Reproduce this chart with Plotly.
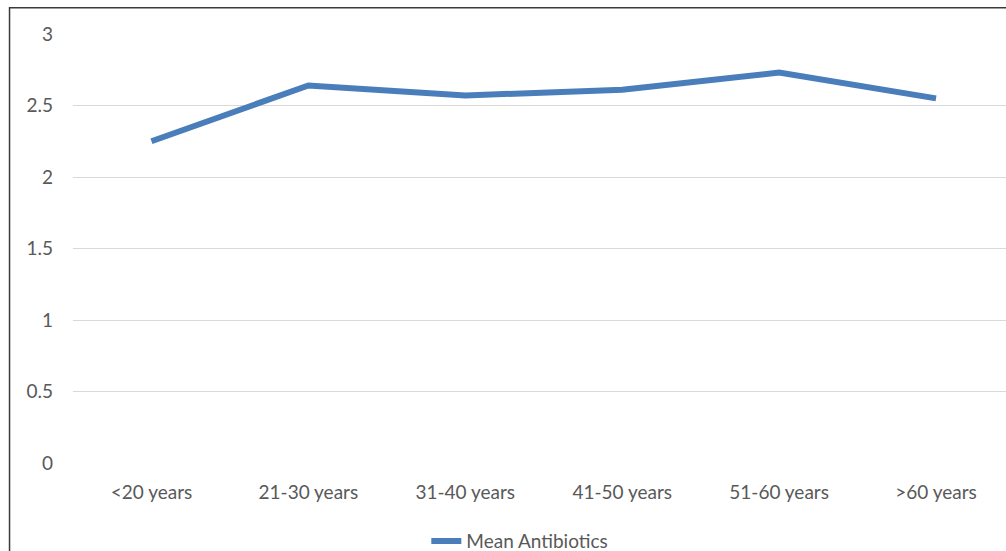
import plotly.graph_objects as go

categories = ["<20 years", "21-30 years", "31-40 years", "41-50 years", "51-60 years", ">60 years"]
mean_antibiotics = [2.25, 2.64, 2.57, 2.61, 2.73, 2.55]
y_ticks = [0, 0.5, 1, 1.5, 2, 2.5, 3]
y_tick_labels = ["0", "0.5", "1", "1.5", "2", "2.5", "3"]

W, H = 1006, 551
ml, mr, mt, mb = 72.5, 0, 34.3, 88.3
pw = W - ml - mr
ph = H - mt - mb
cat_px = 157.0
x_range = [-0.5, -0.5 + pw / cat_px]

font_family = "Lato, 'Open Sans', sans-serif"
txt_color = "#595959"
fs = 19

fig = go.Figure()
fig.add_trace(go.Scatter(
    x=categories, y=mean_antibiotics, mode="lines", name="Mean Antibiotics",
    line=dict(color="#4a7ebb", width=6),
))

# outer frame (left & top visible, right/bottom cut off)
fx0 = (9 - ml) / pw
fy1 = 1 + (mt - 8) / ph
fig.add_shape(type="rect", xref="paper", yref="paper",
              x0=fx0, x1=1.2, y0=-0.5, y1=fy1,
              line=dict(color="#3a3a3a", width=1.5), fillcolor="rgba(0,0,0,0)")

fig.update_layout(
    width=W, height=H,
    margin=dict(l=ml, r=mr, t=mt, b=mb, pad=0, autoexpand=False),
    paper_bgcolor="white", plot_bgcolor="white",
    font=dict(family=font_family, size=fs, color=txt_color),
    showlegend=True,
    legend=dict(orientation="h", x=(426 - ml) / pw, xanchor="left",
                y=-(540.7 - (mt + ph)) / ph, yanchor="middle",
                font=dict(size=fs, color=txt_color), bgcolor="rgba(0,0,0,0)"),
    xaxis=dict(type="category", range=x_range, showgrid=False, zeroline=False,
               showline=False, ticks="", ticklabelstandoff=16,
               tickfont=dict(size=fs, color=txt_color)),
    yaxis=dict(range=[0, 3], tickvals=y_ticks, ticktext=y_tick_labels,
               showgrid=True, gridcolor="#d9d9d9", gridwidth=1,
               zeroline=False, showline=False, ticks="", ticklabelstandoff=19,
               tickfont=dict(size=fs, color=txt_color)),
)

fig.write_html("out.html")
